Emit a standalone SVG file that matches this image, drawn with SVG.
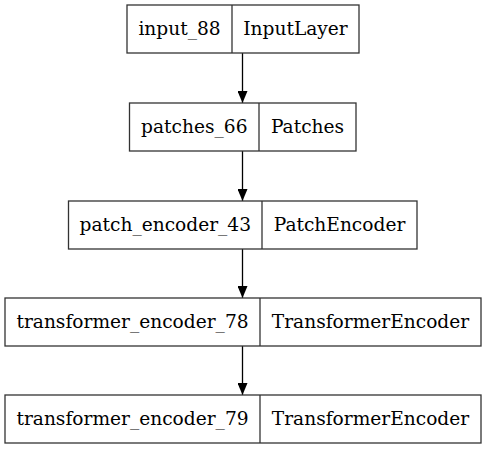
<svg xmlns="http://www.w3.org/2000/svg" width="485" height="449" viewBox="0 0 485 449">
<defs>
<marker id="ah" markerWidth="12" markerHeight="10" refX="12" refY="5" orient="auto" markerUnits="userSpaceOnUse" viewBox="0 0 12 10">
<path d="M0,0 L12,5 L0,10 z" fill="#000"/>
</marker>
<style>
.box{fill:#fff;stroke:#333;stroke-width:1.3}
.div{stroke:#333;stroke-width:1.3}
text{font-family:"DejaVu Serif","Liberation Serif",serif;font-size:18.6px;fill:#000;text-anchor:middle}
.edge{stroke:#000;stroke-width:1.3;fill:none}
</style>
</defs>
<rect width="485" height="449" fill="#fff"/>
<g id="connectors">
<line class="edge" x1="242.5" y1="53" x2="242.5" y2="103" marker-end="url(#ah)"/>
<line class="edge" x1="242.5" y1="151" x2="242.5" y2="201" marker-end="url(#ah)"/>
<line class="edge" x1="242.5" y1="249" x2="242.5" y2="298" marker-end="url(#ah)"/>
<line class="edge" x1="242.5" y1="346" x2="242.5" y2="395" marker-end="url(#ah)"/>
</g>
<g id="input_88">
<rect class="box" x="127" y="5" width="232" height="48"/>
<line class="div" x1="232" y1="5" x2="232" y2="53"/>
<text x="179.5" y="35">input_88</text>
<text x="295.5" y="35">InputLayer</text>
</g>
<g id="patches_66">
<rect class="box" x="129.5" y="103" width="226.5" height="48"/>
<line class="div" x1="259" y1="103" x2="259" y2="151"/>
<text x="194.3" y="133">patches_66</text>
<text x="307.5" y="133">Patches</text>
</g>
<g id="patch_encoder_43">
<rect class="box" x="68.5" y="201" width="348.5" height="48"/>
<line class="div" x1="262" y1="201" x2="262" y2="249"/>
<text x="165.3" y="231">patch_encoder_43</text>
<text x="339.5" y="231">PatchEncoder</text>
</g>
<g id="transformer_encoder_78">
<rect class="box" x="5" y="298" width="476" height="48"/>
<line class="div" x1="260" y1="298" x2="260" y2="346"/>
<text x="132.5" y="328">transformer_encoder_78</text>
<text x="370.5" y="328">TransformerEncoder</text>
</g>
<g id="transformer_encoder_79">
<rect class="box" x="5" y="395" width="476" height="48"/>
<line class="div" x1="260" y1="395" x2="260" y2="443"/>
<text x="132.5" y="425">transformer_encoder_79</text>
<text x="370.5" y="425">TransformerEncoder</text>
</g>
</svg>
